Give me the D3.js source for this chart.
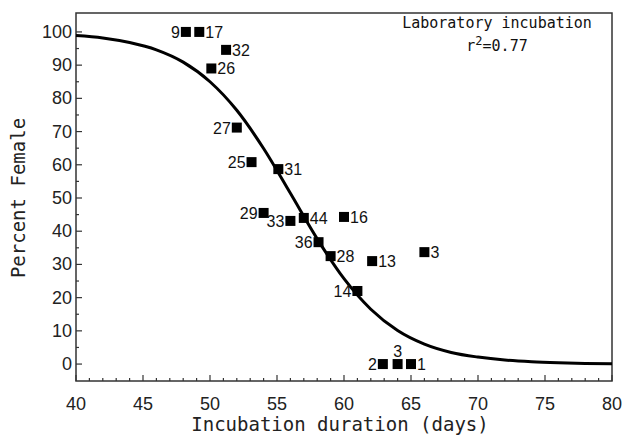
<!DOCTYPE html>
<html>
<head>
<meta charset="utf-8">
<script src="https://cdn.jsdelivr.net/npm/d3@7"></script>
<style>
  body { margin: 0; background: #fff; }
</style>
</head>
<body>
<div id="chart"></div>
<script>
// clutch data: incubation days, percent female, clutch id
var days    = [48.2, 49.2, 51.2, 50.1, 52.0, 53.1, 55.1, 54.0, 56.0, 57.0, 60.0, 58.1, 59.0, 62.1, 66.0, 61.0, 62.9, 64.0, 65.0];
var female  = [100, 100, 94.6, 89, 71.2, 60.8, 58.7, 45.5, 43.1, 44.0, 44.3, 36.7, 32.5, 31.0, 33.7, 22.0, 0, 0, 0];
var ids     = ["9", "17", "32", "26", "27", "25", "31", "29", "33", "44", "16", "36", "28", "13", "3", "14", "2", "3", "1"];
// where the id sits: l = left, r = right, t = above
var idSide  = ["l", "r", "r", "r", "l", "l", "r", "l", "l", "r", "r", "l", "r", "r", "r", "l", "l", "t", "r"];

// fitted curve
var curveDays   = [40, 42, 44, 46, 48, 50, 52, 54, 56, 58, 60, 62, 64, 66, 68, 70, 72, 74, 76, 78, 80];
var curveFemale = [98.9, 98.2, 96.8, 94.6, 90.9, 85.0, 76.4, 64.9, 51.4, 37.7, 25.7, 16.5, 10.1, 6.0, 3.5, 2.1, 1.2, 0.7, 0.4, 0.2, 0.1];

var xTicks = [40, 45, 50, 55, 60, 65, 70, 75, 80];
var yTicks = [0, 10, 20, 30, 40, 50, 60, 70, 80, 90, 100];

var W = 624, H = 439;
var plot = {left: 76, right: 612, top: 13, bottom: 381};

var svg = d3.select("#chart").append("svg")
    .attr("width", W)
    .attr("height", H);

var x = d3.scaleLinear().domain([40, 80]).range([plot.left, plot.right]);
var y = d3.scaleLinear().domain([-5.1, 105.7]).range([plot.bottom, plot.top]);

// frame
svg.append("rect")
    .attr("x", plot.left).attr("y", plot.top)
    .attr("width", plot.right - plot.left).attr("height", plot.bottom - plot.top)
    .attr("fill", "none")
    .attr("stroke", "#333")
    .attr("stroke-width", 1.5);

// x ticks, inward, minor every day
var xMinor = d3.range(40, 81, 1);
svg.selectAll(".xt").data(xMinor).enter().append("line")
    .attr("x1", function(d){ return x(d); })
    .attr("x2", function(d){ return x(d); })
    .attr("y1", plot.bottom)
    .attr("y2", function(d){ return d % 5 === 0 ? plot.bottom - 6 : plot.bottom - 3; })
    .attr("stroke", "#333").attr("stroke-width", 1.2);

svg.selectAll(".xl").data(xTicks).enter().append("text")
    .attr("x", function(d){ return x(d); })
    .attr("y", 410)
    .attr("text-anchor", "middle")
    .style("font-family", "Liberation Sans, Arial, sans-serif")
    .style("font-size", "18px")
    .attr("fill", "#222")
    .text(function(d){ return d; });

// y ticks, inward, minor every 5
var yMinor = d3.range(0, 101, 5);
svg.selectAll(".yt").data(yMinor).enter().append("line")
    .attr("x1", plot.left)
    .attr("x2", function(d){ return d % 10 === 0 ? plot.left + 6 : plot.left + 3; })
    .attr("y1", function(d){ return y(d); })
    .attr("y2", function(d){ return y(d); })
    .attr("stroke", "#333").attr("stroke-width", 1.2);

svg.selectAll(".yl").data(yTicks).enter().append("text")
    .attr("x", plot.left - 4)
    .attr("y", function(d){ return y(d) + 6; })
    .attr("text-anchor", "end")
    .style("font-family", "Liberation Sans, Arial, sans-serif")
    .style("font-size", "18px")
    .attr("fill", "#222")
    .text(function(d){ return d; });

// axis titles
svg.append("text")
    .attr("x", (plot.left + plot.right) / 2 - 4)
    .attr("y", 431)
    .attr("text-anchor", "middle")
    .style("font-family", "DejaVu Sans Mono, monospace")
    .style("font-size", "19px")
    .attr("fill", "#222")
    .text("Incubation duration (days)");

svg.append("text")
    .attr("transform", "translate(25," + y(50) + ") rotate(-90)")
    .attr("text-anchor", "middle")
    .style("font-family", "DejaVu Sans Mono, monospace")
    .style("font-size", "19px")
    .attr("fill", "#222")
    .text("Percent Female");

// annotation
svg.append("text")
    .attr("x", 497).attr("y", 28)
    .attr("text-anchor", "middle")
    .style("font-family", "DejaVu Sans Mono, monospace")
    .style("font-size", "15px")
    .attr("fill", "#111")
    .text("Laboratory incubation");

var r2 = svg.append("text")
    .attr("x", 497).attr("y", 51)
    .attr("text-anchor", "middle")
    .style("font-family", "DejaVu Sans Mono, monospace")
    .style("font-size", "15px")
    .attr("fill", "#111");
r2.append("tspan").text("r");
r2.append("tspan").attr("dy", -6).style("font-size", "12px").text("2");
r2.append("tspan").attr("dy", 6).text("=0.77");

// fitted curve
var line = d3.line()
    .x(function(d, i){ return x(curveDays[i]); })
    .y(function(d){ return y(d); })
    .curve(d3.curveMonotoneX);

svg.append("path")
    .datum(curveFemale)
    .attr("d", line)
    .attr("fill", "none")
    .attr("stroke", "#000")
    .attr("stroke-width", 3);

// points
var s = 10;
svg.selectAll(".pt").data(days).enter().append("rect")
    .attr("x", function(d){ return x(d) - s / 2; })
    .attr("y", function(d, i){ return y(female[i]) - s / 2; })
    .attr("width", s).attr("height", s)
    .attr("fill", "#000");

svg.selectAll(".lab").data(days).enter().append("text")
    .attr("x", function(d, i){
        if (idSide[i] === "l") return x(d) - s / 2 - 1;
        if (idSide[i] === "r") return x(d) + s / 2 + 1;
        return x(d);
    })
    .attr("y", function(d, i){
        if (idSide[i] === "t") return y(female[i]) - 7;
        return y(female[i]) + 6;
    })
    .attr("text-anchor", function(d, i){
        if (idSide[i] === "l") return "end";
        if (idSide[i] === "r") return "start";
        return "middle";
    })
    .style("font-family", "Liberation Sans, Arial, sans-serif")
    .style("font-size", "16px")
    .attr("fill", "#111")
    .text(function(d, i){ return ids[i]; });
</script>
</body>
</html>
